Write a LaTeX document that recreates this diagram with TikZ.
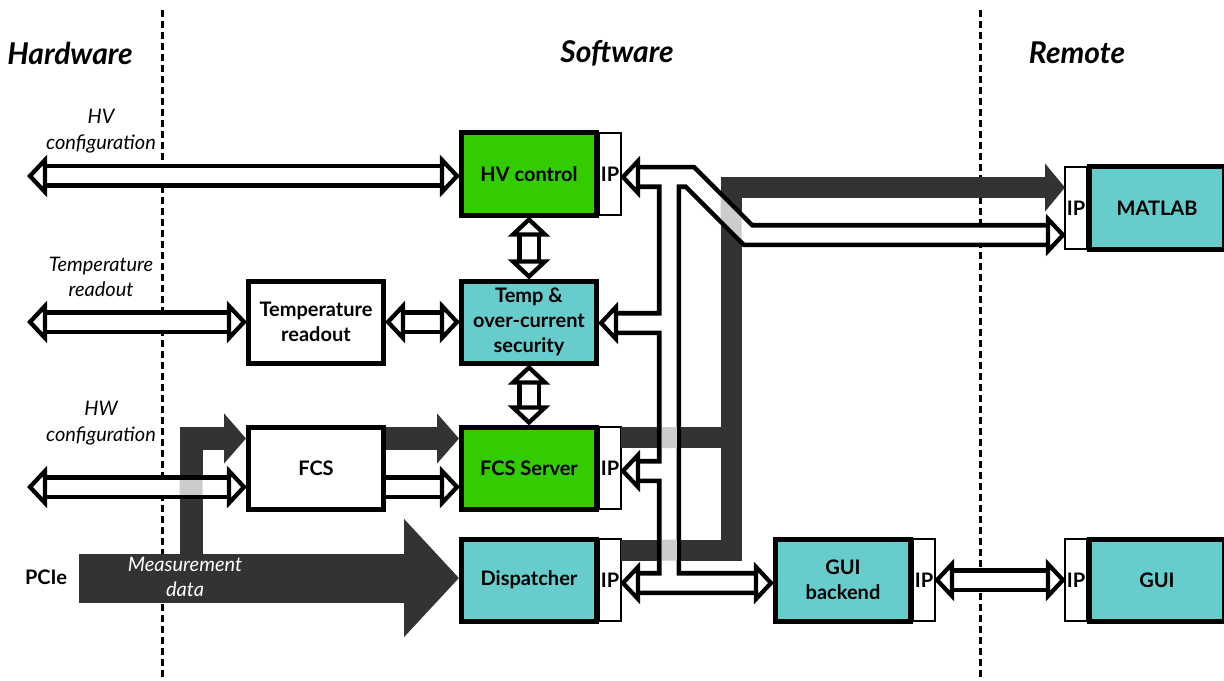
\documentclass[tikz,border=0pt]{standalone}
\usepackage{fontspec}
\setmainfont{Lato}
\usetikzlibrary{arrows.meta,calc}

\definecolor{hvgreen}{HTML}{33CC00}
\definecolor{swteal}{HTML}{66CCCC}
\definecolor{dk}{HTML}{333333}
\definecolor{lgray}{HTML}{CCCCCC}

\tikzset{
  box/.style={draw, line width=3.75pt, minimum width=101.25pt, minimum height=61.5pt,
    align=center, inner sep=2pt, font=\bfseries\fontsize{15}{18.5}\selectfont},
  ipbox/.style={draw, line width=1.5pt, fill=white, minimum width=16.5pt, minimum height=61.5pt,
    inner sep=0pt, outer sep=0pt, font=\bfseries\fontsize{15}{18.5}\selectfont},
  lbl/.style={align=center, font=\itshape\fontsize{15}{19}\selectfont},
  zone/.style={font=\bfseries\itshape\fontsize{22.5}{26}\selectfont},
  divider/.style={line width=2.25pt, dash pattern=on 5.25pt off 3pt},
  pipe/.style={double=white, double distance=11.25pt, line width=3.5pt},
  core/.style={draw=lgray, line width=11.25pt},
  flow/.style={draw=dk, line width=15.75pt},
  tipline/.style={draw=black, fill=white, line width=3.2pt},
  hollow/.pic={\draw[tipline] (-2,0) -- ++(-15,-16) -- ++(0,32) -- cycle;}
}

\begin{document}
\begin{tikzpicture}[x=0.75pt, y=-0.75pt]
    \useasboundingbox (0,0) rectangle (1224,681);
    % zone borders
    \draw[divider] (162,10) -- (162,681);
    \draw[divider] (980,10) -- (980,681);

    \node[zone] (hwz) at (70,53) {Hardware};
    \node[zone] (swz) at (617,53) {Software};
    \node[zone] (rmz) at (1077,53) {Remote};

    \node[box, fill=hvgreen] (hv) at (529,174) {HV control};
    \node[box, fill=swteal] (sec) at (529,322) {Temp \&\\over-current\\security};
    \node[box] (tro) at (316,322) {Temperature\\readout};
    \node[box] (fcs) at (316,468) {FCS};
    \node[box, fill=hvgreen] (srv) at (529,468) {FCS Server};
    \node[box, fill=swteal] (disp) at (529,580) {Dispatcher};
    \node[box, fill=swteal] (guib) at (843,580) {GUI\\backend};
    \node[box, fill=swteal] (matlab) at (1157,208) {MATLAB};
    \node[box, fill=swteal] (gui) at (1157,580) {GUI};

    \node[ipbox, anchor=west] (hvip) at (hv.east) {IP};
    \node[ipbox, anchor=west] (srvip) at (srv.east) {IP};
    \node[ipbox, anchor=west] (dispip) at (disp.east) {IP};
    \node[ipbox, anchor=west] (guibip) at (guib.east) {IP};
    \node[ipbox, anchor=east] (matip) at (matlab.west) {IP};
    \node[ipbox, anchor=east] (guiip) at (gui.west) {IP};

    \node[lbl] (hvcfg) at (101,131) {HV\\configuration};
    \node[lbl] (trcfg) at (101,277) {Temperature\\readout};
    \node[lbl] (hwcfg) at (101,423) {HW\\configuration};
    \node[font=\bfseries\fontsize{15}{18}\selectfont] (pcie) at (46,577) {PCIe};

    \coordinate (hvend) at (28,176);
    \coordinate (trend) at (28,322);
    \coordinate (hwend) at (28,487);
    \coordinate (pcin) at (79,578);

    % measurement data flow
    \draw[dk, line width=36.75pt, -{Triangle[length=41.25pt, width=86.25pt]}] (pcin) -- (pcin -| disp.west);
    \draw[flow, line width=17.25pt, -{Triangle[length=16.5pt, width=36.75pt]}] (191,560) -- (191,438.5) -- ($(fcs.west)+(0,-29.5)$);
    \draw[flow, line width=17.25pt, -{Triangle[length=16.5pt, width=36.75pt]}] ($(fcs.east)+(0,-29.5)$) -- ($(srv.west)+(0,-29.5)$);
    \draw[flow] ($(srvip.east)+(0,-30.5)$) -- (731,437.5);
    \draw[flow, -{Triangle[length=15pt, width=35.25pt]}] ($(dispip.east)+(0,-30)$) -- (731,550) -- (731,187.5) -- ($(matip.west)+(0,-20.5)$);
    \node[lbl, text=white] (meas) at (185,577) {Measurement\\data};

    % control links
    \draw[pipe, shorten <=10pt, shorten >=10pt] (hvend) -- (hvend -| hv.west);
    \draw[pipe, shorten <=10pt, shorten >=10pt] (trend) -- (tro.west);
    \draw[pipe, shorten <=10pt, shorten >=10pt] (tro.east) -- (sec.west);
    \draw[pipe, shorten <=10pt, shorten >=10pt] (hwend) -- (hwend -| fcs.west);
    \draw[pipe, shorten >=10pt] ($(fcs.east)+(0,19)$) -- ($(srv.west)+(0,19)$);
    \draw[pipe, shorten <=10pt, shorten >=10pt] (hv.south) -- (sec.north);
    \draw[pipe, shorten <=10pt, shorten >=10pt] (sec.south) -- (srv.north);
    \draw[pipe, shorten <=10pt, shorten >=10pt] (guibip.east) -- (guiip.west);
    % IP bus
    \draw[pipe] ($(hvip.east)+(13,3)$) -- (690,177) -- (748,235) -- ($(matip.west)+(-13,27)$)
        (669,177) -- (669,583)
        ($(sec.east)+(13,1)$) -- (669,323)
        ($(srvip.east)+(13,3)$) -- (669,471)
        ($(dispip.east)+(13,3)$) -- ($(guib.west)+(-13,3)$);

    % data flow seen through the links
    \begin{scope}
        \clip (720.5,177) rectangle (741.5,561);
        \draw[core] ($(hvip.east)+(13,3)$) -- (690,177) -- (748,235) -- ($(matip.west)+(-13,27)$);
    \end{scope}
    \begin{scope}
        \clip (621,427) rectangle (720,448) (621,539.5) rectangle (720,560.5);
        \draw[core] (669,177) -- (669,583);
    \end{scope}
    \begin{scope}
        \clip (179.5,427) rectangle (202.5,560);
        \draw[core] (hwend) -- (hwend -| fcs.west);
    \end{scope}

    % arrow heads
    \pic[rotate=180] at (hvend) {hollow};
    \pic at (hvend -| hv.west) {hollow};
    \pic[rotate=180] at (trend) {hollow};
    \pic at (tro.west) {hollow};
    \pic[rotate=180] at (tro.east) {hollow};
    \pic at (sec.west) {hollow};
    \pic[rotate=180] at (hwend) {hollow};
    \pic at (hwend -| fcs.west) {hollow};
    \pic at ($(srv.west)+(0,19)$) {hollow};
    \pic[rotate=90] at (hv.south) {hollow};
    \pic[rotate=-90] at (sec.north) {hollow};
    \pic[rotate=90] at (sec.south) {hollow};
    \pic[rotate=-90] at (srv.north) {hollow};
    \pic[rotate=180] at (guibip.east) {hollow};
    \pic at (guiip.west) {hollow};
    \pic[rotate=180] at ($(hvip.east)+(0,3)$) {hollow};
    \pic[rotate=180] at ($(sec.east)+(0,1)$) {hollow};
    \pic[rotate=180] at ($(srvip.east)+(0,3)$) {hollow};
    \pic[rotate=180] at ($(dispip.east)+(0,3)$) {hollow};
    \pic at ($(guib.west)+(0,3)$) {hollow};
    \pic at ($(matip.west)+(0,27)$) {hollow};
\end{tikzpicture}
\end{document}
